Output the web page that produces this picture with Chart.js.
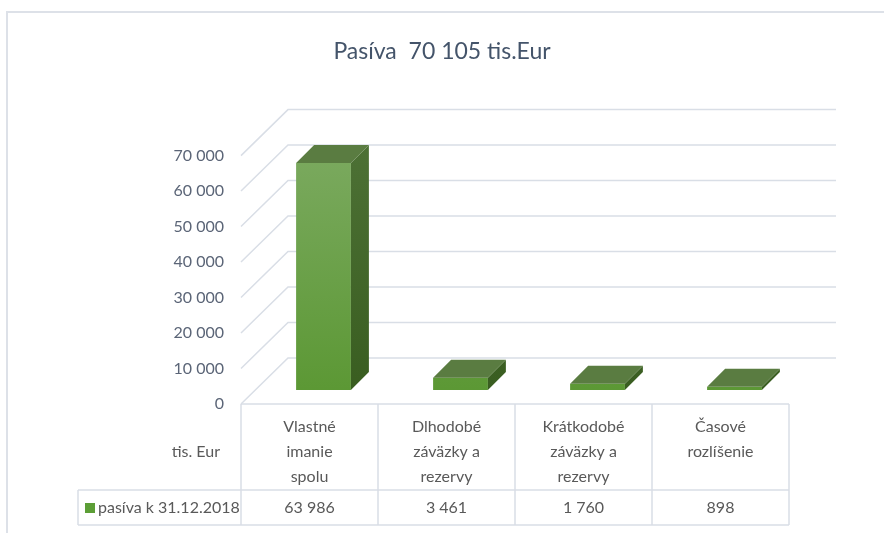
<!DOCTYPE html>
<html>
<head>
<meta charset="utf-8">
<script src="https://cdn.jsdelivr.net/npm/chart.js@4/dist/chart.umd.min.js"></script>
<style>
  html, body { margin: 0; padding: 0; background: #fff; }
  #wrap { width: 884px; height: 533px; }
</style>
</head>
<body>
<div id="wrap"><canvas id="pasivaChart"></canvas></div>
<script>
'use strict';

var chartTitle = 'Pasíva  70 105 tis.Eur';
var seriesLabel = 'pasíva k 31.12.2018';
var categories = [
  ['Vlastné', 'imanie', 'spolu'],
  ['Dlhodobé', 'záväzky a', 'rezervy'],
  ['Krátkodobé', 'záväzky a', 'rezervy'],
  ['Časové', 'rozlíšenie']
];
var values = [63986, 3461, 1760, 898];
var axisMax = 70000;
var axisStep = 10000;
var unitLabel = 'tis. Eur';

var FONT = 'Lato, "Open Sans", sans-serif';
var GRID = '#d9dee6';
var TEXT = '#595959';

function fmt(v) {
  return String(v).replace(/\B(?=(\d{3})+(?!\d))/g, ' ');
}

// depth of the 3d box (front plane -> back wall) and bar position inside it
var DX = 47, DY = -46;
var BAR_OFF = 14, BAR_DEPTH = 18;

var box3d = {
  id: 'box3d',
  beforeDraw: function(chart) {
    var ctx = chart.ctx;
    ctx.save();
    ctx.strokeStyle = '#dde1e8';
    ctx.lineWidth = 2;
    ctx.beginPath();
    ctx.moveTo(7, chart.height + 2);
    ctx.lineTo(7, 12);
    ctx.lineTo(chart.width + 2, 12);
    ctx.stroke();
    ctx.restore();
  },
  beforeDatasetsDraw: function(chart) {
    var ctx = chart.ctx, a = chart.chartArea, y = chart.scales.y;
    ctx.save();
    ctx.strokeStyle = GRID;
    ctx.lineWidth = 1.5;
    y.ticks.forEach(function(t) {
      var py = y.getPixelForValue(t.value);
      ctx.beginPath();
      ctx.moveTo(a.left, py);
      ctx.lineTo(a.left + DX, py + DY);
      ctx.lineTo(a.right + DX, py + DY);
      ctx.stroke();
    });
    ctx.restore();
  },
  afterDatasetsDraw: function(chart) {
    var ctx = chart.ctx, a = chart.chartArea;
    var meta = chart.getDatasetMeta(0);
    ctx.save();
    meta.data.forEach(function(bar) {
      var p = bar.getProps(['x', 'y', 'base', 'width'], true);
      var L = p.x - p.width / 2 + BAR_OFF;
      var R = p.x + p.width / 2 + BAR_OFF;
      var T = p.y - BAR_OFF;
      var B = p.base - BAR_OFF;
      var d = BAR_DEPTH;

      var gFront = ctx.createLinearGradient(0, a.top, 0, a.bottom);
      gFront.addColorStop(0, '#7aa95e');
      gFront.addColorStop(1, '#5a9732');
      ctx.fillStyle = gFront;
      ctx.fillRect(L, T, R - L, B - T);

      var gSide = ctx.createLinearGradient(0, a.top, 0, a.bottom);
      gSide.addColorStop(0, '#4c7034');
      gSide.addColorStop(1, '#385c1f');
      ctx.fillStyle = gSide;
      ctx.beginPath();
      ctx.moveTo(R, T);
      ctx.lineTo(R + d, T - d);
      ctx.lineTo(R + d, B - d);
      ctx.lineTo(R, B);
      ctx.closePath();
      ctx.fill();

      ctx.fillStyle = '#5a7c41';
      ctx.beginPath();
      ctx.moveTo(L, T);
      ctx.lineTo(L + d, T - d);
      ctx.lineTo(R + d, T - d);
      ctx.lineTo(R, T);
      ctx.closePath();
      ctx.fill();
    });
    ctx.restore();
  },
  afterDraw: function(chart) {
    var ctx = chart.ctx, a = chart.chartArea, x = chart.scales.x;
    var rowTop = 490, rowBottom = 525, tableLeft = 78;
    var n = categories.length;
    var colW = (a.right - a.left) / n;
    ctx.save();
    ctx.strokeStyle = GRID;
    ctx.lineWidth = 1.5;
    ctx.beginPath();
    ctx.moveTo(a.left, a.bottom); ctx.lineTo(a.right, a.bottom);
    ctx.moveTo(tableLeft, rowTop); ctx.lineTo(a.right, rowTop);
    ctx.moveTo(tableLeft, rowBottom); ctx.lineTo(a.right, rowBottom);
    ctx.moveTo(tableLeft, rowTop); ctx.lineTo(tableLeft, rowBottom);
    for (var i = 0; i <= n; i++) {
      ctx.moveTo(a.left + i * colW, a.bottom);
      ctx.lineTo(a.left + i * colW, rowBottom);
    }
    ctx.stroke();

    ctx.fillStyle = TEXT;
    ctx.font = '16px ' + FONT;
    ctx.textBaseline = 'middle';
    ctx.textAlign = 'right';
    ctx.fillText(unitLabel, 220, 452);

    ctx.textAlign = 'center';
    values.forEach(function(v, i) {
      ctx.fillText(fmt(v), x.getPixelForValue(i), (rowTop + rowBottom) / 2);
    });

    ctx.fillStyle = '#5c9e36';
    ctx.fillRect(85, 503, 10, 10);
    ctx.fillStyle = TEXT;
    ctx.textAlign = 'left';
    ctx.fillText(chart.data.datasets[0].label, 98, (rowTop + rowBottom) / 2);
    ctx.restore();
  }
};

new Chart(document.getElementById('pasivaChart'), {
  type: 'bar',
  data: {
    labels: categories,
    datasets: [{
      label: seriesLabel,
      data: values,
      backgroundColor: 'rgba(0,0,0,0)',
      borderWidth: 0,
      barPercentage: 0.4,
      categoryPercentage: 1
    }]
  },
  options: {
    responsive: true,
    maintainAspectRatio: false,
    animation: false,
    layout: { padding: { left: 0, right: 0, top: 0, bottom: 8 } },
    plugins: {
      legend: { display: false },
      tooltip: { enabled: false },
      title: {
        display: true,
        text: chartTitle,
        color: '#44546a',
        font: { family: FONT, size: 23, weight: 'normal', lineHeight: 1.2 },
        padding: { top: 38, bottom: 90 }
      }
    },
    scales: {
      x: {
        grid: { display: false, drawTicks: false },
        border: { display: false },
        ticks: {
          color: TEXT,
          font: { family: FONT, size: 16, lineHeight: '25px' },
          padding: 10,
          maxRotation: 0,
          autoSkip: false
        },
        afterFit: function(s) { s.height = 121; }
      },
      y: {
        min: 0,
        max: axisMax,
        grid: { display: false, drawTicks: false },
        border: { display: false },
        ticks: {
          stepSize: axisStep,
          color: '#5b6577',
          font: { family: FONT, size: 16 },
          padding: 17,
          callback: function(v) { return fmt(v); }
        },
        afterFit: function(s) { s.width = 241; }
      },
      // empty right axis only reserves the space right of the plot
      yRight: {
        position: 'right',
        min: 0,
        max: axisMax,
        grid: { display: false, drawTicks: false },
        border: { display: false },
        ticks: { display: false },
        afterFit: function(s) { s.width = 95; }
      }
    }
  },
  plugins: [box3d]
});
</script>
</body>
</html>
